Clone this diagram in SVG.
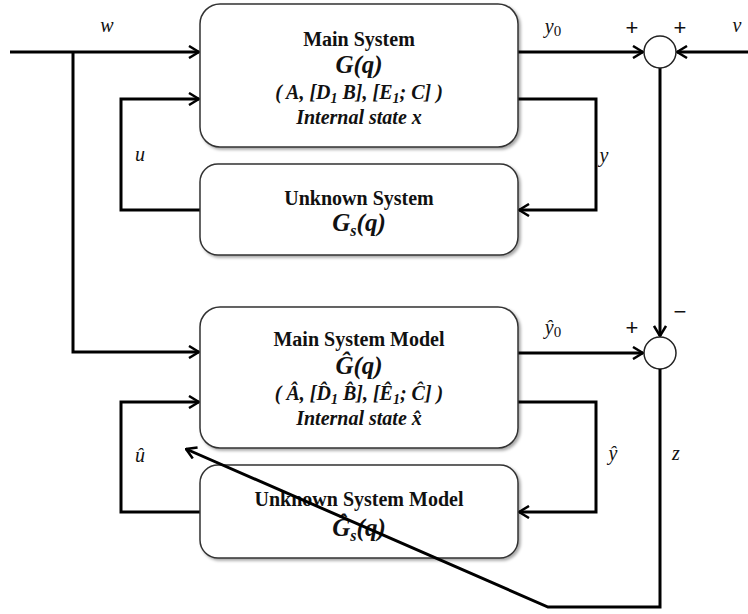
<svg xmlns="http://www.w3.org/2000/svg" width="748" height="614" viewBox="0 0 748 614">
<style>
.box{fill:#fff;stroke:#333;stroke-width:1.5;filter:url(#sh)}
.t{font-family:"Liberation Serif","DejaVu Serif",serif;font-size:20px;font-weight:bold;fill:#111;text-anchor:middle}
.m{font-family:"Liberation Serif","DejaVu Serif",serif;font-size:20px;font-style:italic;font-weight:bold;fill:#111;text-anchor:middle}
.mg{font-size:25px}
.lb{font-family:"Liberation Serif","DejaVu Serif",serif;font-size:20px;font-style:italic;fill:#111;text-anchor:middle}
.sg{font-family:"Liberation Sans","DejaVu Sans",sans-serif;font-size:22px;fill:#111;text-anchor:middle}
.c{fill:none;stroke:#000;stroke-width:3;stroke-linejoin:miter}
.a{marker-end:url(#ah)}
.sum{fill:#fff;stroke:#222;stroke-width:1.5}
</style>
<defs>
<filter id="sh" x="-5%" y="-5%" width="112%" height="115%">
<feDropShadow dx="2" dy="2" stdDeviation="1.5" flood-color="#000" flood-opacity="0.35"/>
</filter>
<marker id="ah" viewBox="0 0 12 14" refX="11" refY="7" markerWidth="12" markerHeight="14" markerUnits="userSpaceOnUse" orient="auto">
<path d="M1,1 L11,7 L1,13" fill="none" stroke="#000" stroke-width="2.5"/>
</marker>
</defs>

<g id="connectors">
<path class="c a" d="M10,52 H199"/>
<path class="c a" d="M73,52 V352 H199"/>
<path class="c a" d="M200,210 H121 V99 H199"/>
<path class="c a" d="M518,52 H643"/>
<path class="c a" d="M748,52 H677"/>
<path class="c a" d="M518,99 H596 V210 H519"/>
<path class="c a" d="M660,68 V336"/>
<path class="c a" d="M518,353 H643"/>
<path class="c a" d="M518,402 H596 V512 H519"/>
<path class="c a" d="M200,512 H121 V402 H199"/>
</g>

<g id="main-system">
<rect class="box" x="200" y="4" width="318" height="143" rx="20"/>
<text class="t" x="359" y="46">Main System</text>
<text class="m mg" x="359" y="73">G(q)</text>
<text class="m" x="359" y="99">( A, [D<tspan font-size="14" dy="4">1</tspan><tspan dy="-4"> B], [E</tspan><tspan font-size="14" dy="4">1</tspan><tspan dy="-4">; C] )</tspan></text>
<text class="m" x="359" y="124">Internal state x</text>
</g>

<g id="unknown-system">
<rect class="box" x="200" y="164" width="318" height="91" rx="18"/>
<text class="t" x="359" y="205">Unknown System</text>
<text class="m mg" x="359" y="231">G<tspan font-size="16" dy="5">s</tspan><tspan dy="-5">(q)</tspan></text>
</g>

<g id="main-system-model">
<rect class="box" x="200" y="307" width="318" height="141" rx="20"/>
<text class="t" x="359" y="346">Main System Model</text>
<text class="m mg" x="359" y="374">Ĝ(q)</text>
<text class="m" x="359" y="400">( Â, [D̂<tspan font-size="14" dy="4">1</tspan><tspan dy="-4"> B̂], [Ê</tspan><tspan font-size="14" dy="4">1</tspan><tspan dy="-4">; Ĉ] )</tspan></text>
<text class="m" x="359" y="425">Internal state x̂</text>
</g>

<g id="unknown-system-model">
<rect class="box" x="200" y="465" width="318" height="93" rx="18"/>
<text class="t" x="359" y="506">Unknown System Model</text>
<text class="m mg" x="359" y="536">Ĝ<tspan font-size="16" dy="5">s</tspan><tspan dy="-5">(q)</tspan></text>
</g>

<g id="sum-top">
<circle class="sum" cx="660" cy="52" r="16"/>
</g>
<g id="sum-bottom">
<circle class="sum" cx="660" cy="353" r="16"/>
</g>

<g id="z-connector">
<path class="c a" d="M660,369 V607 H548 L186,449"/>
</g>

<g id="labels">
<text class="lb" x="107" y="32">w</text>
<text class="lb" x="140" y="161">u</text>
<text class="lb" x="553" y="33">y<tspan font-size="15" dy="3" font-style="normal">0</tspan></text>
<text class="sg" x="632" y="35">+</text>
<text class="sg" x="680" y="35">+</text>
<text class="lb" x="737" y="32">v</text>
<text class="lb" x="604" y="162">y</text>
<text class="lb" x="553" y="334">ŷ<tspan font-size="15" dy="3" font-style="normal">0</tspan></text>
<text class="sg" x="632" y="335">+</text>
<text class="sg" x="680" y="319">−</text>
<text class="lb" x="613" y="460">ŷ</text>
<text class="lb" x="676" y="460">z</text>
<text class="lb" x="140" y="462">û</text>
</g>
</svg>
